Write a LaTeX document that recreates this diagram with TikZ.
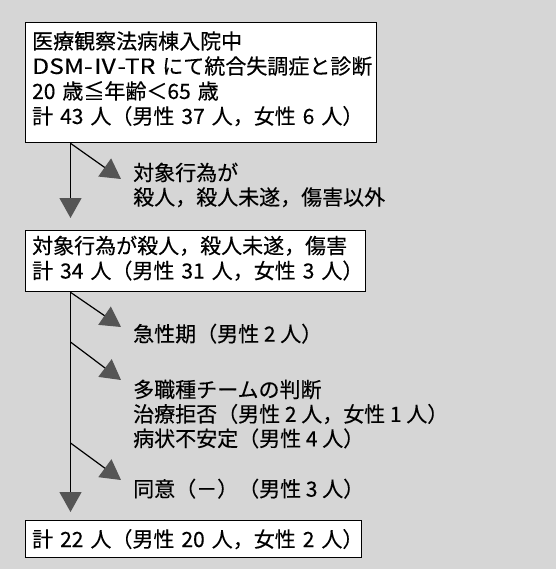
\documentclass[tikz,border=0pt]{standalone}
\usepackage{fontspec}
\newfontfamily\jp{Noto Sans CJK JP}[FakeBold=0.3]
\usetikzlibrary{arrows.meta}
\definecolor{bggray}{RGB}{214,214,214}
\definecolor{tipgray}{RGB}{85,85,85}
\newcommand\lastdp[1]{\rule[-#1]{0pt}{#1}}
\newcommand\widelatin[1]{{\addfontfeature{FakeStretch=1.18}#1}}
\tikzset{
  box/.style={draw=black, line width=1.3pt, fill=white, anchor=north west,
    inner xsep=6.5pt, inner ysep=0pt, align=left,
    font=\jp\fontsize{21}{25}\selectfont},
  lbl/.style={anchor=north west, inner sep=0pt, align=left,
    font=\jp\fontsize{21}{24.5}\selectfont},
  flow/.style={line width=1.2pt, -{Triangle[width=22pt,length=20pt,color=tipgray]}},
}
\begin{document}
\begin{tikzpicture}[x=1pt,y=-1pt]
\fill[bggray] (0,0) rectangle (556,569);
\useasboundingbox (0,0) rectangle (556,569);
% boxes
\node[box, text width=338pt, minimum height=120pt] (b1) at (25,22)
  {\mbox{医療観察法病棟入院中}\\\mbox{\widelatin{DSM-Ⅳ-TR} にて統合失調症と診断}\\\mbox{20 歳≦年齢＜65 歳}\\\mbox{計 43 人（男性 37 人，女性 6 人）}\lastdp{10pt}};
\node[box, text width=327pt, minimum height=61pt] (b2) at (25,230)
  {\mbox{対象行為が殺人，殺人未遂，傷害}\\\mbox{計 34 人（男性 31 人，女性 3 人）}\lastdp{8pt}};
\node[box, text width=323pt, minimum height=37pt] (b3) at (25,520)
  {\mbox{計 22 人（男性 20 人，女性 2 人）}};
% labels
\node[lbl] (t1) at (133,162.5) {対象行為が\\殺人，殺人未遂，傷害以外};
\node[lbl] (t2) at (133,323.5) {急性期（男性 2 人）};
\node[lbl] (t3) at (133,379.5) {多職種チームの判断\\治療拒否（男性 2 人，女性 1 人）\\病状不安定（男性 4 人）};
\node[lbl] (t4) at (133,478.5) {同意（－）（男性 3 人）};
% connector geometry
\coordinate (vx) at (70.5,0);
\coordinate (d1b) at (121,179);
\coordinate (d2b) at (121,327);
\coordinate (d3a) at (70.5,342);
\coordinate (d3b) at (121,380);
\coordinate (d4a) at (70.5,443);
\coordinate (d4b) at (121,480);
% vertical flow
\draw[flow, shorten >=12pt] (b1.south -| vx) -- (b2.north -| vx);
\draw[flow, shorten >=8pt] (b2.south -| vx) -- (b3.north -| vx);
% side branches
\draw[flow] (b1.south -| vx) -- (d1b);
\draw[flow] (b2.south -| vx) -- (d2b);
\draw[flow] (d3a) -- (d3b);
\draw[flow] (d4a) -- (d4b);
\end{tikzpicture}
\end{document}
